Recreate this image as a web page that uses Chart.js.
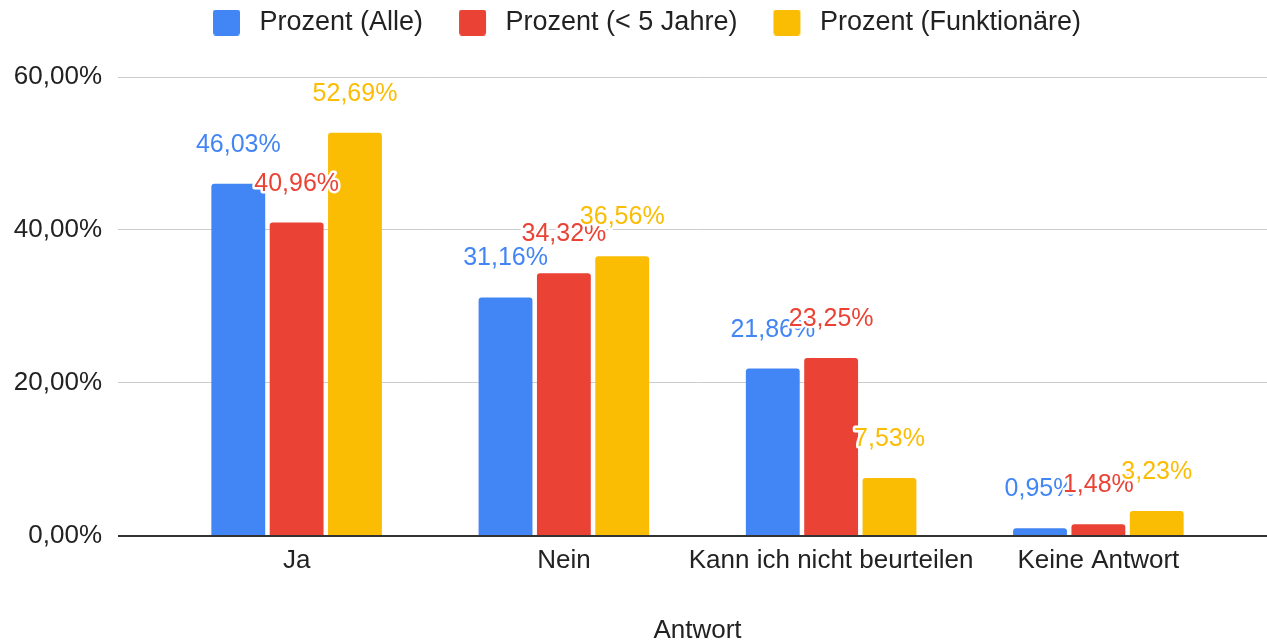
<!DOCTYPE html>
<html lang="de">
<head>
<meta charset="utf-8">
<title>Antwort</title>
<script src="https://cdn.jsdelivr.net/npm/chart.js@4.4.1/dist/chart.umd.min.js"></script>
<style>
    html, body { margin: 0; padding: 0; background: #ffffff; }
    #wrap { position: relative; width: 1267px; height: 640px; }
</style>
</head>
<body>
<div id="wrap"><canvas id="antwortChart"></canvas></div>
<script>
// Chart data
const categories = ['Ja', 'Nein', 'Kann ich nicht beurteilen', 'Keine Antwort'];
const seriesNames = ['Prozent (Alle)', 'Prozent (< 5 Jahre)', 'Prozent (Funktionäre)'];
const prozentAlle = [46.03, 31.16, 21.86, 0.95];
const prozentUnter5 = [40.96, 34.32, 23.25, 1.48];
const prozentFunktionaere = [52.69, 36.56, 7.53, 3.23];
const yMin = 0;
const yMax = 60;
const yStep = 20;

const seriesColors = ['#4285f4', '#ea4335', '#fbbc04'];
const fontFamily = '"Liberation Sans", Arial, sans-serif';

// German number format: 46,03%
function formatPercent(value) {
    return value.toFixed(2).replace('.', ',') + '%';
}

// Legend swatch as a small canvas (box sits inside a wider transparent area)
function legendSwatch(color) {
    const c = document.createElement('canvas');
    c.width = 60;
    c.height = 26;
    const g = c.getContext('2d');
    g.fillStyle = color;
    g.beginPath();
    if (g.roundRect) {
        g.roundRect(27, 0, 27, 26, 3);
    } else {
        g.rect(27, 0, 27, 26);
    }
    g.fill();
    return c;
}
const swatches = seriesColors.map(legendSwatch);

// Extra space between legend and plot, legend centred on the full width
const legendSpacer = {
    id: 'legendSpacer',
    beforeLayout(chart) {
        const legend = chart.legend;
        if (legend && !legend._spacerPatched) {
            const fit = legend.fit;
            legend.fit = function () {
                fit.call(this);
                this.height += 31;
            };
            legend._spacerPatched = true;
        }
    },
    afterLayout(chart) {
        const legend = chart.legend;
        if (legend) {
            legend.right = chart.width;
            legend.width = chart.width - legend.left;
        }
    }
};

// Gridline extension to the right edge, dark baseline and value labels
const chartDecor = {
    id: 'chartDecor',
    beforeDatasetsDraw(chart) {
        const { ctx, chartArea, scales: { y } } = chart;
        ctx.save();
        ctx.strokeStyle = '#cccccc';
        ctx.lineWidth = 1;
        y.ticks.forEach(t => {
            if (t.value === 0) return;
            const py = Math.round(y.getPixelForValue(t.value) - 0.5) + 0.5;
            ctx.beginPath();
            ctx.moveTo(chartArea.right, py);
            ctx.lineTo(chart.width, py);
            ctx.stroke();
        });
        ctx.restore();
    },
    afterDatasetsDraw(chart) {
        const { ctx, chartArea, scales: { y } } = chart;
        ctx.save();

        // Baseline at 0
        const py = Math.round(y.getPixelForValue(0) - 1) + 1;
        ctx.strokeStyle = '#333333';
        ctx.lineWidth = 2;
        ctx.beginPath();
        ctx.moveTo(chartArea.left - 45, py);
        ctx.lineTo(chart.width, py);
        ctx.stroke();

        // Value labels with white halo
        ctx.font = '25px ' + fontFamily;
        ctx.textAlign = 'center';
        ctx.textBaseline = 'alphabetic';
        ctx.lineJoin = 'round';
        chart.data.datasets.forEach((ds, i) => {
            const meta = chart.getDatasetMeta(i);
            meta.data.forEach((bar, j) => {
                const text = formatPercent(ds.data[j]);
                const ty = bar.y - 32;
                ctx.lineWidth = 5;
                ctx.strokeStyle = '#ffffff';
                ctx.strokeText(text, bar.x, ty);
                ctx.fillStyle = ds.backgroundColor;
                ctx.fillText(text, bar.x, ty);
            });
        });
        ctx.restore();
    }
};

Chart.defaults.font.family = fontFamily;
Chart.defaults.color = '#222222';

const ctx = document.getElementById('antwortChart').getContext('2d');

new Chart(ctx, {
    type: 'bar',
    data: {
        labels: categories,
        datasets: [
            {
                label: seriesNames[0],
                data: prozentAlle,
                backgroundColor: seriesColors[0],
            },
            {
                label: seriesNames[1],
                data: prozentUnter5,
                backgroundColor: seriesColors[1],
            },
            {
                label: seriesNames[2],
                data: prozentFunktionaere,
                backgroundColor: seriesColors[2],
            }
        ]
    },
    options: {
        responsive: true,
        maintainAspectRatio: false,
        animation: false,
        datasets: {
            bar: {
                categoryPercentage: 0.655,
                barPercentage: 0.923,
                borderRadius: 3,
            }
        },
        layout: {
            padding: { left: 0, right: 35, top: 0, bottom: 0 }
        },
        scales: {
            x: {
                grid: { display: false, drawTicks: false },
                border: { display: false },
                ticks: {
                    font: { size: 26 },
                    color: '#222222',
                    padding: 10,
                    maxRotation: 0,
                    minRotation: 0,
                    autoSkip: false
                },
                title: {
                    display: true,
                    text: 'Antwort',
                    font: { size: 26, lineHeight: 0.7 },
                    color: '#222222',
                    padding: { top: 35, bottom: 0 }
                }
            },
            y: {
                min: yMin,
                max: yMax,
                border: { display: false },
                grid: {
                    color: '#cccccc',
                    drawTicks: true,
                    tickLength: 45
                },
                ticks: {
                    stepSize: yStep,
                    padding: 16,
                    font: { size: 26 },
                    color: '#222222',
                    callback: value => formatPercent(value)
                },
                afterFit(scale) {
                    scale.width = 163;
                }
            }
        },
        plugins: {
            legend: {
                position: 'top',
                labels: {
                    usePointStyle: true,
                    pointStyleWidth: 60,
                    padding: 9,
                    font: { size: 27 },
                    color: '#222222',
                    generateLabels(chart) {
                        const items = Chart.defaults.plugins.legend.labels.generateLabels(chart);
                        items.forEach((item, i) => {
                            item.pointStyle = swatches[i];
                        });
                        return items;
                    }
                }
            },
            tooltip: { enabled: false }
        }
    },
    plugins: [legendSpacer, chartDecor]
});
</script>
</body>
</html>
